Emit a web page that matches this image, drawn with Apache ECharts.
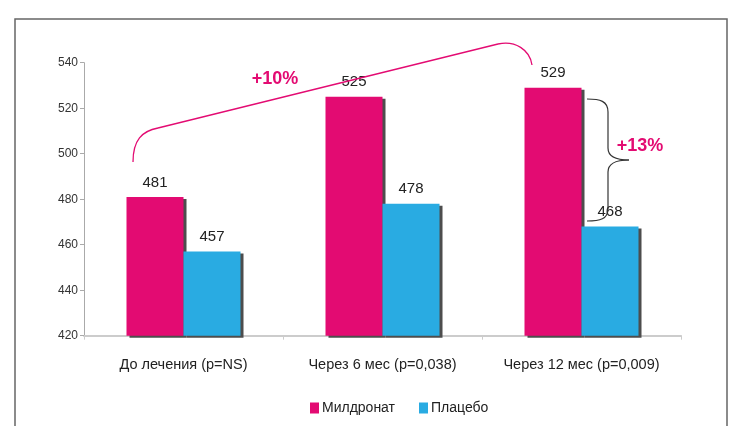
<!DOCTYPE html>
<html>
<head>
<meta charset="utf-8">
<script src="https://cdn.jsdelivr.net/npm/echarts@6/dist/echarts.min.js"></script>
<style>
  html, body { margin: 0; padding: 0; background: #fff; }
  #chart { width: 729px; height: 426px; }
</style>
</head>
<body>
<div id="chart"></div>
<script>
// данные
var categories = ['До лечения (p=NS)', 'Через 6 мес (p=0,038)', 'Через 12 мес (p=0,009)'];
var mildronat = [481, 525, 529];
var placebo = [457, 478, 468];
var seriesNames = ['Милдронат', 'Плацебо'];

var pink = '#e30b72';
var blue = '#29abe2';
var font = 'Liberation Sans, Arial, sans-serif';

var myChart = echarts.init(document.getElementById('chart'));

var barShadow = {
    shadowColor: '#4d4d4d',
    shadowBlur: 0,
    shadowOffsetX: 3,
    shadowOffsetY: 2
};

// кривая Безье для аннотаций
function curve(x1, y1, cx1, cy1, cx2, cy2, x2, y2, color, w) {
    return {
        type: 'bezierCurve',
        shape: { x1: x1, y1: y1, cpx1: cx1, cpy1: cy1, cpx2: cx2, cpy2: cy2, x2: x2, y2: y2 },
        style: { fill: null, stroke: color, lineWidth: w },
        silent: true,
        z: 10
    };
}
function seg(x1, y1, x2, y2, color, w) {
    return {
        type: 'line',
        shape: { x1: x1, y1: y1, x2: x2, y2: y2 },
        style: { stroke: color, lineWidth: w },
        silent: true,
        z: 10
    };
}

var option = {
    animation: false,
    grid: { left: 84, right: 48, top: 62.7, bottom: 90.3 },
    legend: {
        data: seriesNames,
        left: 305,
        top: 396,
        itemWidth: 9,
        itemHeight: 11,
        itemGap: 24,
        icon: 'rect',
        textStyle: { fontFamily: font, fontSize: 14, color: '#222', padding: [0, 0, 0, -2] }
    },
    xAxis: {
        type: 'category',
        data: categories,
        axisLine: { lineStyle: { color: '#cccccc', width: 2 } },
        axisTick: { show: true, length: 4, lineStyle: { color: '#cccccc' } },
        axisLabel: { fontFamily: font, fontSize: 14.5, color: '#222', margin: 22, interval: 0 }
    },
    yAxis: {
        type: 'value',
        min: 420,
        max: 540,
        interval: 20,
        splitLine: { show: false },
        axisLine: { show: true, lineStyle: { color: '#aaaaaa' } },
        axisTick: { show: true, length: 4, lineStyle: { color: '#aaaaaa' } },
        axisLabel: { fontFamily: font, fontSize: 12, color: '#333', margin: 6 }
    },
    series: [
        {
            name: seriesNames[0],
            type: 'bar',
            data: mildronat,
            barWidth: 57,
            barGap: '0%',
            itemStyle: Object.assign({ color: pink }, barShadow),
            label: { show: true, position: 'top', distance: 7, fontFamily: font, fontSize: 15, color: '#222' }
        },
        {
            name: seriesNames[1],
            type: 'bar',
            data: placebo,
            barWidth: 57,
            barGap: '0%',
            itemStyle: Object.assign({ color: blue }, barShadow),
            label: { show: true, position: 'top', distance: 7, fontFamily: font, fontSize: 15, color: '#222' }
        }
    ],
    graphic: [
        // рамка
        {
            type: 'rect',
            shape: { x: 15, y: 19, width: 712, height: 420 },
            style: { fill: null, stroke: '#666', lineWidth: 1.5 },
            silent: true
        },
        // дуга +10%
        curve(133, 162, 133, 140, 142, 131, 158, 128, pink, 1.3),
        seg(158, 128, 498, 44, pink, 1.3),
        curve(498, 44, 515, 40, 530, 50, 532, 65, pink, 1.3),
        {
            type: 'text',
            x: 275, y: 79,
            style: { text: '+10%', fill: pink, font: 'bold 18px ' + font, textAlign: 'center', textVerticalAlign: 'middle' },
            z: 10
        },
        // скобка +13%
        curve(587, 99, 600, 99, 608, 101, 608, 112, '#333', 1.2),
        seg(608, 112, 608, 148, '#333', 1.2),
        curve(608, 148, 608, 156, 614, 160, 629, 160, '#333', 1.2),
        curve(629, 160, 614, 160, 608, 164, 608, 172, '#333', 1.2),
        seg(608, 172, 608, 209, '#333', 1.2),
        curve(608, 209, 608, 219, 600, 221, 587, 221, '#333', 1.2),
        {
            type: 'text',
            x: 640, y: 146,
            style: { text: '+13%', fill: pink, font: 'bold 18px ' + font, textAlign: 'center', textVerticalAlign: 'middle' },
            z: 10
        }
    ]
};

option && myChart.setOption(option);
</script>
</body>
</html>
